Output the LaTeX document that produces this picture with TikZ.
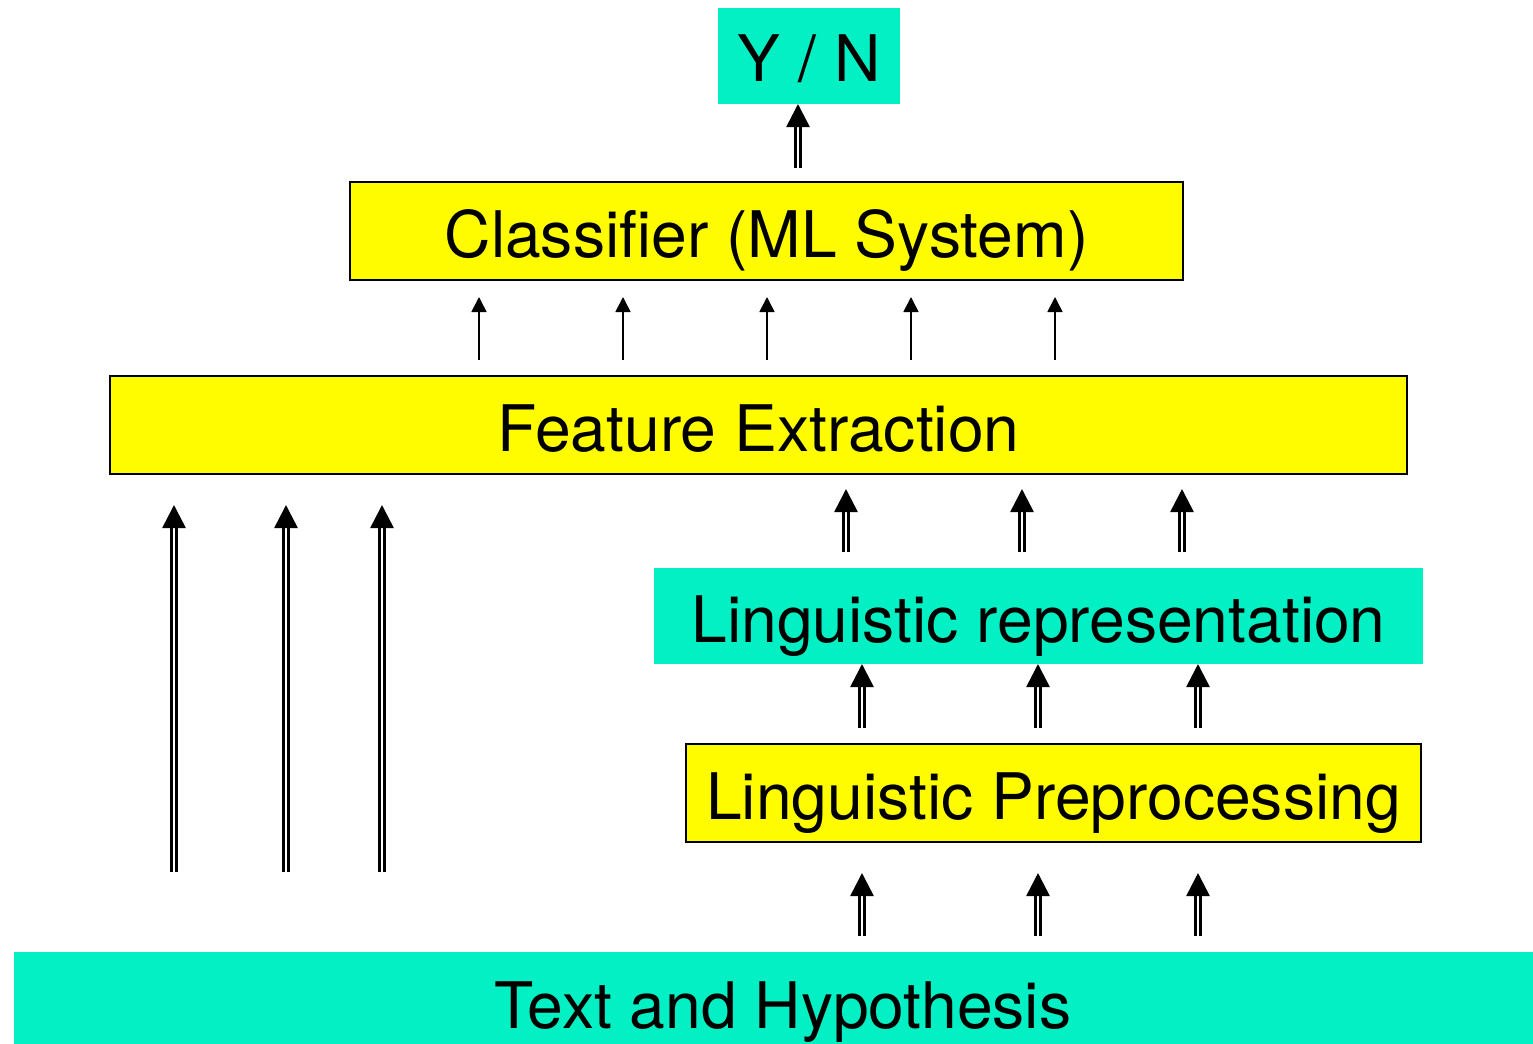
\documentclass[tikz,border=0pt]{standalone}
\usepackage{fontspec}
\setmainfont{TeX Gyre Heros}
\usetikzlibrary{arrows.meta}
\definecolor{boxcyan}{RGB}{2,240,196}
\definecolor{boxyellow}{RGB}{255,252,0}
\tikzset{
  label font/.style={font=\fontsize{32.1pt}{38pt}\selectfont,
    text depth=8pt, text height=34pt},
  filledbox/.style={label font, fill=boxcyan, draw=none, inner sep=0pt},
  framedbox/.style={label font, fill=boxyellow, draw=black, line width=0.75pt, inner sep=0pt},
  dblarrow/.style={line width=1.3pt, double distance=1.3pt,
    -{Triangle[length=11.5pt,width=11.5pt]}},
  sglarrow/.style={line width=0.8pt, -{Triangle[length=7.5pt,width=7.5pt]}},
}
\begin{document}
\begin{tikzpicture}[x=0.5pt,y=-0.5pt]
\clip (0,0) rectangle (1533,1044);
\useasboundingbox (0,0) rectangle (1533,1044);

% boxes
\node[filledbox, minimum width=91pt, minimum height=48pt] (yn) at (809,56) {Y / N};
\node[framedbox, minimum width=416.5pt, minimum height=49pt] (cls) at (766.5,231) {Classifier (ML System)};
\node[framedbox, minimum width=648.5pt, minimum height=49pt] (fe) at (758.5,425) {Feature Extraction};
\node[filledbox, minimum width=384.5pt, minimum height=48pt] (lr) at (1038.5,616) {Linguistic representation};
\node[framedbox, minimum width=367.5pt, minimum height=49pt] (lp) at (1053.5,793) {Linguistic Preprocessing};
\node[filledbox, minimum width=769pt, minimum height=50pt] (th) at (783,1002) {Text and Hypothesis};

% classifier output
\coordinate (ynb) at (798,168);
\coordinate (ynt) at (798,104);
\draw[dblarrow] (ynb) -- (ynt);

% features into the classifier
\foreach \x [count=\i] in {479,623,767,911,1055} {
  \coordinate (fb\i) at (\x,360);
  \coordinate (ft\i) at (\x,297);
  \draw[sglarrow] (fb\i) -- (ft\i);
}

% raw text straight into feature extraction
\foreach \x [count=\i] in {174,286,382} {
  \coordinate (rb\i) at (\x,872);
  \coordinate (rt\i) at (\x,505);
  \draw[dblarrow] (rb\i) -- (rt\i);
}

% linguistic representation into feature extraction
\foreach \x [count=\i] in {846,1022,1182} {
  \coordinate (lb\i) at (\x,552);
  \coordinate (lt\i) at (\x,489);
  \draw[dblarrow] (lb\i) -- (lt\i);
}

% preprocessing into representation
\foreach \x [count=\i] in {862,1038,1198} {
  \coordinate (pb\i) at (\x,728);
  \coordinate (pt\i) at (\x,664);
  \draw[dblarrow] (pb\i) -- (pt\i);
}

% text into preprocessing
\foreach \x [count=\i] in {862,1038,1198} {
  \coordinate (tb\i) at (\x,936);
  \coordinate (tt\i) at (\x,873);
  \draw[dblarrow] (tb\i) -- (tt\i);
}
\end{tikzpicture}
\end{document}
